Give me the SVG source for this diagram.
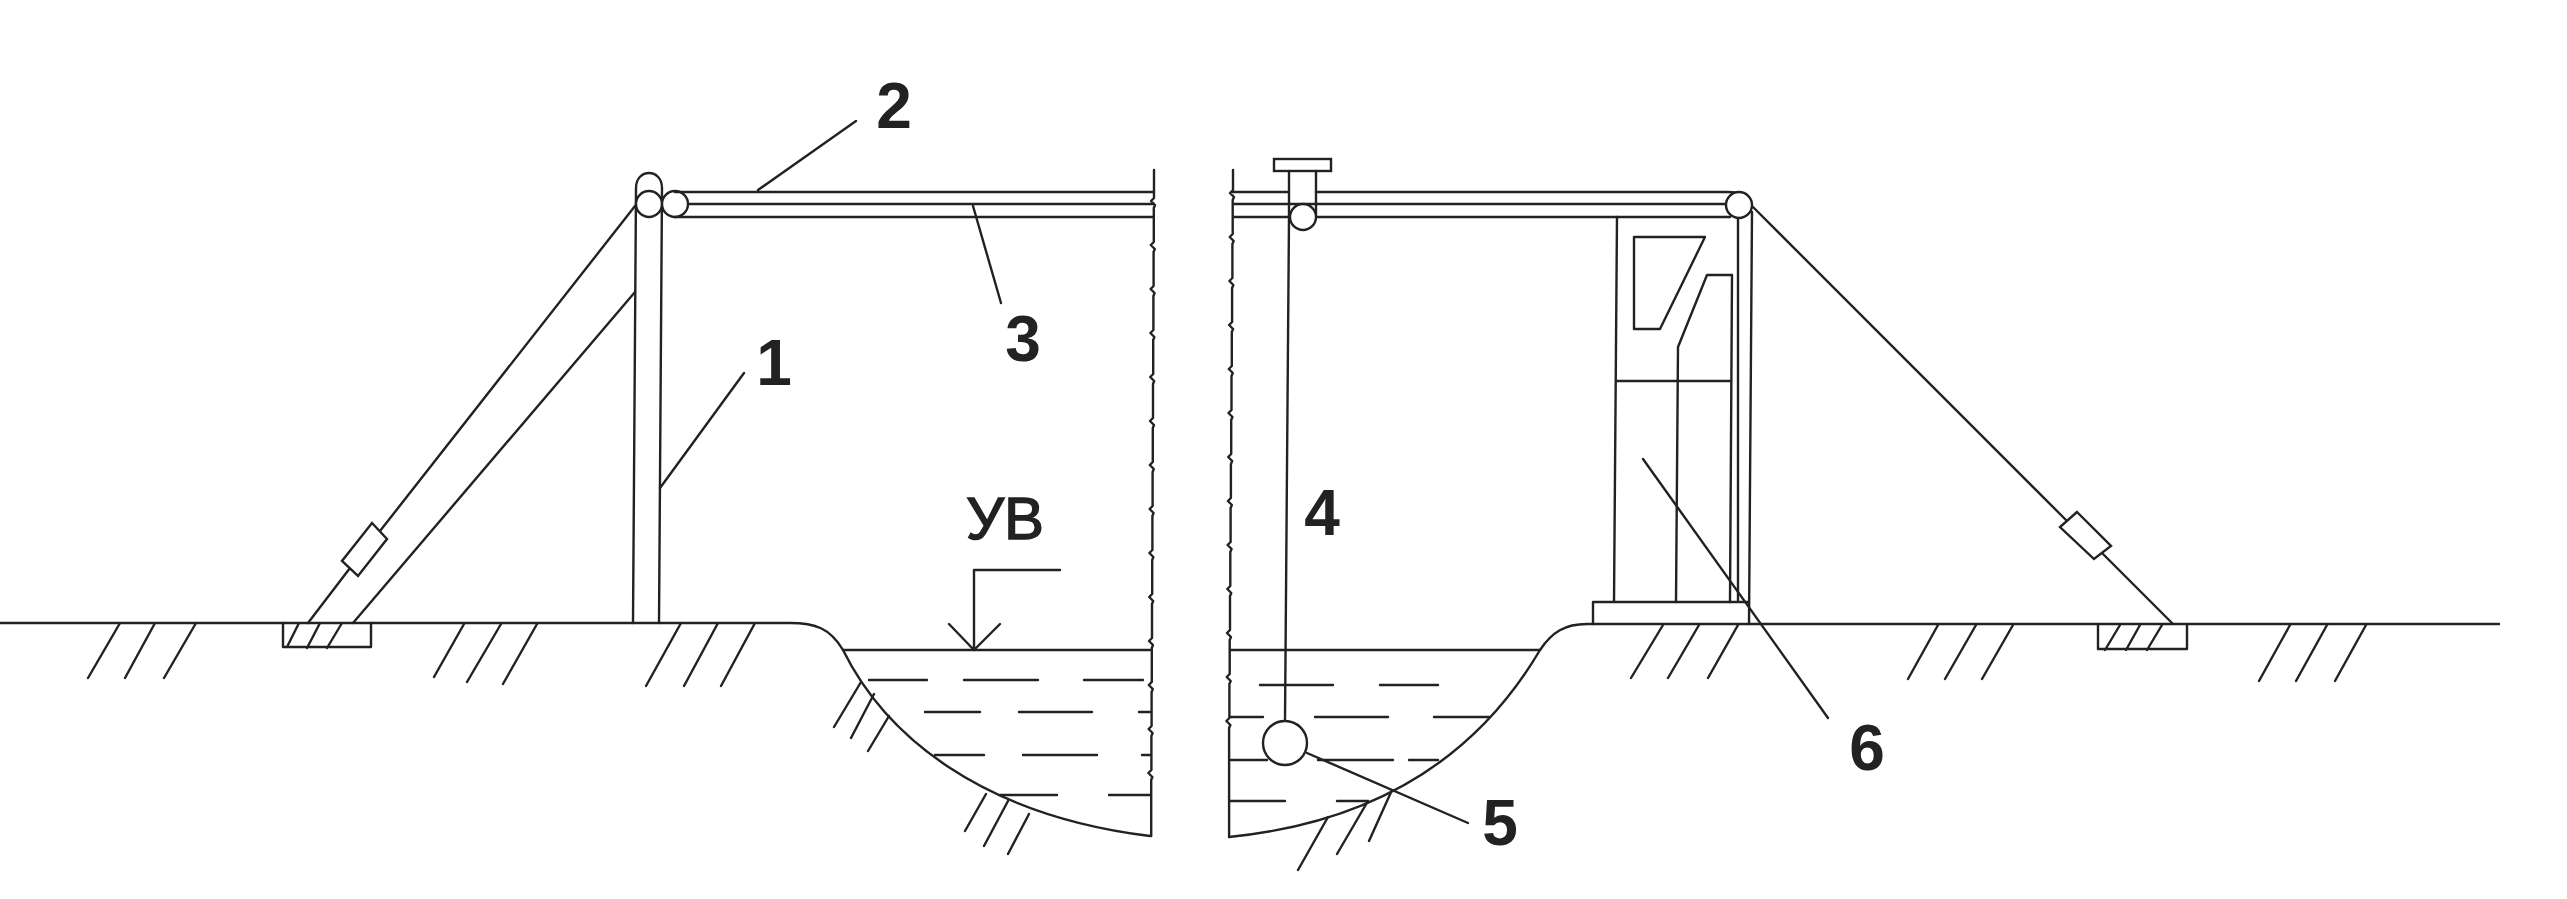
<svg xmlns="http://www.w3.org/2000/svg" width="2567" height="899" viewBox="0 0 2567 899">
<style>
.l{fill:none;stroke:#222;stroke-width:2.4;stroke-linecap:round;stroke-linejoin:round}
.w{fill:#fff;stroke:#222;stroke-width:2.4}
.t{font-family:"Liberation Sans",Arial,sans-serif;font-weight:bold;fill:#222;text-anchor:middle}
.u{font-family:"Liberation Sans",Arial,sans-serif;fill:#222;stroke:#222;stroke-width:1.400;text-anchor:middle}
</style>
<rect width="2567" height="899" fill="#fff"/>
<g id="ground-left" class="l">
<path d="M0 623H790C815 623 830 628 843 650C885 735 980 815 1150 836"/>
<path d="M120 623L88 678M155 623L125 678M196 623L164 678M464 624L434 677M501 624L467 682M537 624L503 684M681 623L646 686M718 623L684 686M755 623L721 686"/>
<path d="M861 682L834 727M874 694L851 738M889 716L868 751M986 794L965 831M1008 801L984 846M1029 814L1008 854"/>
</g>
<g id="water-left" class="l">
<path d="M843 650H1150"/>
<path d="M869 680H927M964 680H1038M1084 680H1143M925 712H980M1019 712H1092M1139 712H1150M935 755H984M1023 755H1097M1142 755H1150M1000 795H1057M1109 795H1150"/>
<path d="M974 650V570H1060M949 624L974 650L1000 624"/>
</g>
<g id="break-left"><path class="l" d="M1154 170v28l-3 3l4 4l-1.200 3v34l-3 3l4 4l-1.200 3v34l-3 3l4 4l-1.200 3v34l-3 3l4 4l-1.200 3v34l-3 3l4 4l-1.200 3v34l-3 3l4 4l-1.200 3v34l-3 3l4 4l-1.200 3v34l-3 3l4 4l-1.200 3v34l-3 3l4 4l-1.200 3v34l-3 3l4 4l-1.200 3v34l-3 3l4 4l-1.200 3v34l-3 3l4 4l-1.200 3v34l-3 3l4 4l-1.200 3v34l-3 3l4 4l-1.200 3V836"/></g>
<g id="break-right"><path class="l" d="M1233 170v20l-3 3l4 4l-1.300 3v34l-3 3l4 4l-1.300 3v34l-3 3l4 4l-1.300 3v34l-3 3l4 4l-1.300 3v34l-3 3l4 4l-1.300 3v34l-3 3l4 4l-1.300 3v34l-3 3l4 4l-1.300 3v34l-3 3l4 4l-1.300 3v34l-3 3l4 4l-1.300 3v34l-3 3l4 4l-1.300 3v34l-3 3l4 4l-1.300 3v34l-3 3l4 4l-1.300 3v34l-3 3l4 4l-1.300 3V837"/></g>
<g id="mast">
<path class="l" d="M633 623L636 188C636 168 662 168 662 188L659 623"/>
<circle class="w" cx="649" cy="204" r="13"/>
<circle class="w" cx="675" cy="204" r="13"/>
<path class="l" d="M675 192H1153M688 204H1153M675 217H1153"/>
</g>
<g id="strut-left">
<path class="l" d="M635 206L380 531M350 568L308 623M353 623L635 292"/>
<path class="w" d="M372 523L387 539L358 576L342 561Z"/>
<path class="l" d="M283 623V647H371V623M299 623L287 647M320 623L307 648M342 623L327 648"/>
</g>
<g id="span-right">
<path class="l" d="M1233 192H1289M1316 192H1728Q1745 192 1752 205M1233 204H1730M1233 217H1730"/>
<rect class="w" x="1274" y="159" width="57" height="12"/>
<path class="l" d="M1289 171V217L1285 720M1316 171V217"/>
<circle class="w" cx="1303" cy="217" r="13"/>
<circle class="w" cx="1739" cy="205" r="13"/>
</g>
<g id="float"><circle class="w" cx="1285" cy="743" r="22"/></g>
<g id="water-right" class="l">
<path d="M1230 650H1540"/>
<path d="M1260 685H1333M1380 685H1438M1230 717H1263M1315 717H1388M1434 717H1489M1230 760H1267M1318 760H1393M1409 760H1438M1230 801H1285M1337 801H1368"/>
</g>
<g id="ground-right" class="l">
<path d="M1229 837C1400 820 1490 735 1540 650C1552 632 1565 624 1587 624H2499"/>
<path d="M1328 817L1298 870M1368 801L1337 854M1392 790L1369 841"/>
<path d="M1663 625L1631 678M1699 625L1668 678M1738 625L1708 678M1938 625L1908 679M1976 625L1945 679M2013 625L1982 679M2290 625L2259 681M2327 625L2296 681M2366 625L2335 681"/>
</g>
<g id="cabinet" class="l">
<path d="M1617 217L1614 602M1738 218V602M1752 212L1749 624M1593 624V602H1749"/>
<path d="M1634 237H1705L1660 329H1634Z"/>
<path d="M1676 602L1678 347L1707 275H1732L1730 602M1616 381H1731"/>
</g>
<g id="stay-right">
<path class="l" d="M1753 207L2066 520M2102 553L2173 624"/>
<path class="w" d="M2077 512L2111 546L2094 559L2060 527Z"/>
<path class="l" d="M2098 625V649H2187V625M2120 625L2105 650M2140 625L2126 650M2162 625L2147 650"/>
</g>
<g id="leaders" class="l">
<path d="M758 190L856 121M660 488L744 373M973 206L1001 303M1307 753L1468 823M1643 459L1828 718"/>
</g>
<g id="labels">
<text class="t" x="774" y="385" font-size="64">1</text>
<text class="t" x="894" y="128" font-size="64">2</text>
<text class="t" x="1023" y="361" font-size="64">3</text>
<text class="t" x="1322" y="535" font-size="64">4</text>
<text class="t" x="1500" y="845" font-size="64">5</text>
<text class="t" x="1867" y="770" font-size="64">6</text>
<text class="u" x="1005" y="539" font-size="60">УВ</text>
</g>
</svg>
